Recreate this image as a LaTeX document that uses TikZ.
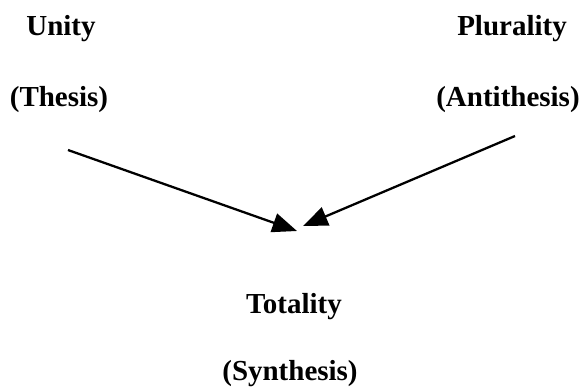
\documentclass[tikz,border=0pt]{standalone}
\usepackage{fontspec}
\setmainfont{Liberation Serif}
\usepackage{tikz}
\usetikzlibrary{arrows.meta, positioning}
\tikzset{
  term/.style={anchor=base, inner sep=0pt, font=\fontsize{16.5}{20}\selectfont\bfseries},
  arrow/.style={-{Triangle[length=14pt, width=11pt]}, line width=1.3pt, draw=black},
}

\begin{document}
\begin{tikzpicture}[x=0.02cm, y=-0.02cm]
  \useasboundingbox (0,0) rectangle (585,387);

  %% Thesis
  \node[term] (unity)  at (61,35)  {Unity};
  \node[term] (thesis) at (59,106) {(Thesis)};

  %% Antithesis
  \node[term] (plural) at (512,35)  {Plurality};
  \node[term] (anti)   at (508,106) {(Antithesis)};

  %% Synthesis
  \node[term] (total) at (294,313) {Totality};
  \node[term] (synth) at (290,380) {(Synthesis)};

  %% Arrows
  \coordinate (tStart) at (68,150);
  \coordinate (tEnd)   at (297,231);
  \coordinate (aStart) at (515,136);
  \coordinate (aEnd)   at (303,226);
  \draw[arrow] (tStart) -- (tEnd);
  \draw[arrow] (aStart) -- (aEnd);
\end{tikzpicture}
\end{document}
